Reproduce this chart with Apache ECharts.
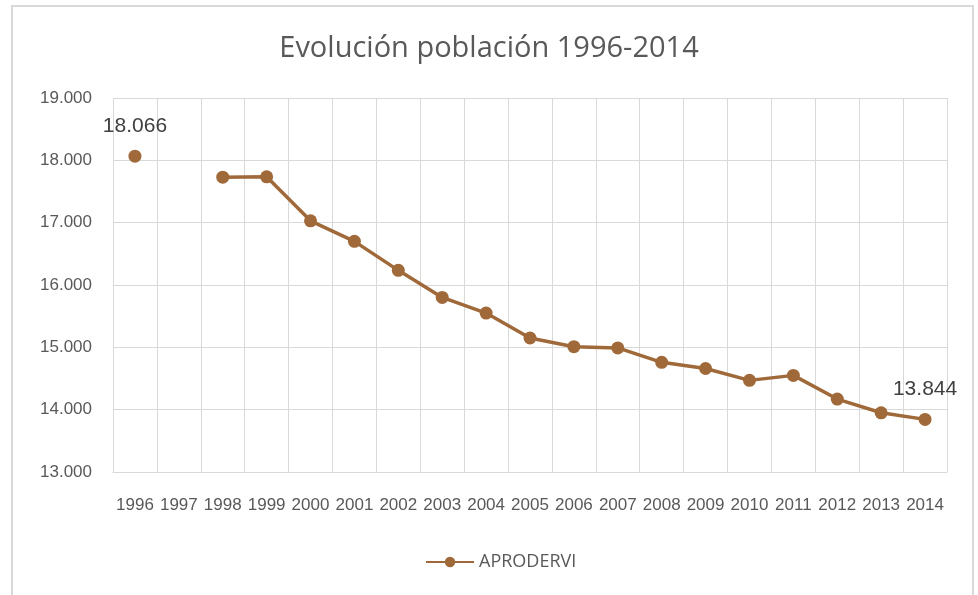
<!DOCTYPE html>
<html>
<head>
<meta charset="utf-8">
<script src="https://cdn.jsdelivr.net/npm/echarts@6/dist/echarts.min.js"></script>
<style>
  html, body { margin: 0; padding: 0; background: #fff; }
  #chart { width: 978px; height: 595px; }
</style>
</head>
<body>
<div id="chart"></div>
<script>
// datos de la serie
var years = ['1996', '1997', '1998', '1999', '2000', '2001', '2002', '2003', '2004', '2005',
             '2006', '2007', '2008', '2009', '2010', '2011', '2012', '2013', '2014'];
var poblacion = [18066, null, 17730, 17735, 17030, 16700, 16235, 15800, 15550, 15150,
                 15010, 14990, 14760, 14660, 14470, 14550, 14170, 13950, 13844];
var yTicks = [13000, 14000, 15000, 16000, 17000, 18000, 19000];

var color = '#A0693A';

function fmt(v) {
	return (v / 1000).toFixed(3);
}

var chart = echarts.init(document.getElementById('chart'));

// solo se etiquetan el primer y el ultimo valor
var serieData = poblacion.map(function (v, i) {
	if (i === 0 || i === poblacion.length - 1) {
		return {
			value: v,
			label: {
				show: true,
				position: 'top',
				distance: 13,
				formatter: function (p) { return fmt(p.value); },
				color: '#404040',
				fontSize: 21,
				fontFamily: 'Liberation Sans'
			}
		};
	}
	return v;
});

var option = {
	animation: false,
	backgroundColor: '#fff',
	title: {
		text: 'Evolución población 1996-2014',
		left: 'center',
		top: 29,
		textStyle: {
			color: '#595959',
			fontSize: 29,
			fontWeight: 'normal',
			fontFamily: 'Open Sans'
		}
	},
	graphic: [{
		type: 'rect',
		shape: { x: 12, y: 6, width: 961, height: 620 },
		style: { fill: 'none', stroke: '#d9d9d9', lineWidth: 2 },
		silent: true
	}],
	legend: {
		data: ['APRODERVI'],
		bottom: 19,
		left: 420,
		itemWidth: 48,
		itemHeight: 13,
		itemGap: 6,
		textStyle: { color: '#595959', fontSize: 18, fontFamily: 'Open Sans' }
	},
	grid: {
		left: 113,
		right: 31,
		top: 98,
		bottom: 123
	},
	xAxis: {
		type: 'category',
		boundaryGap: true,
		data: years,
		axisLine: { lineStyle: { color: '#d9d9d9', width: 1 } },
		axisTick: { show: false },
		axisLabel: {
			color: '#595959',
			fontSize: 17,
			fontFamily: 'Liberation Sans',
			margin: 25,
			interval: 0
		},
		splitLine: { show: true, interval: 0, lineStyle: { color: '#d9d9d9', width: 1 } }
	},
	yAxis: {
		type: 'value',
		min: yTicks[0],
		max: yTicks[yTicks.length - 1],
		interval: 1000,
		axisLine: { show: false },
		axisTick: { show: false },
		axisLabel: {
			color: '#595959',
			fontSize: 17,
			fontFamily: 'Liberation Sans',
			margin: 21,
			formatter: fmt
		},
		splitLine: { lineStyle: { color: '#d9d9d9', width: 1 } }
	},
	series: [{
		name: 'APRODERVI',
		type: 'line',
		data: serieData,
		connectNulls: false,
		symbol: 'circle',
		symbolSize: 13,
		itemStyle: { color: color },
		lineStyle: { color: color, width: 3.5 }
	}]
};

chart.setOption(option);
</script>
</body>
</html>
